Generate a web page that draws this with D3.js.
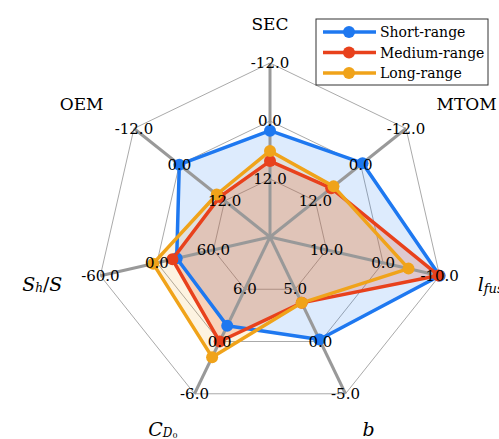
<!DOCTYPE html>
<html>
<head>
<meta charset="utf-8">
<script src="https://cdn.jsdelivr.net/npm/d3@7"></script>
<style>
  body { margin: 0; background: #fff; }
</style>
</head>
<body>
<script>
// Axis names and per-axis range (inner ring = +max, middle = 0, outer = -max)
const axes = ["SEC", "MTOM", "lfus", "b", "CD0", "ShS", "OEM"];
const axisMax = [12, 12, 10, 5, 6, 60, 12];

// Series values (axis units)
const seriesNames = ["Short-range", "Medium-range", "Long-range"];
const shortRange = [2.0, -0.5, -10.0, 0.2, 1.8, 21.0, 0.0];
const mediumRange = [8.3, 7.8, -9.8, 3.7, 0.0, 16.5, 10.7];
const longRange = [6.2, 7.2, -4.5, 3.7, -1.8, -4.0, 9.9];
const colors = ["#1e78f0", "#e8411c", "#f0a31a"];
const fillOpacity = [0.15, 0.2, 0.13];

const W = 499, H = 439;
const cx = 270, cy = 237, R = 174;
const serif = "'DejaVu Serif', 'Liberation Serif', serif";

let svg = d3.select("body").append("svg")
            .attr("width", W)
            .attr("height", H);

let n = axes.length;
let angle = i => Math.PI / 2 - i * 2 * Math.PI / n;
let px = (i, r) => cx + r * Math.cos(angle(i));
let py = (i, r) => cy - r * Math.sin(angle(i));

// one radial scale per axis
let scales = axisMax.map(m => d3.scaleLinear().domain([m, -m]).range([R / 3, R]));
let ringFracs = [1 / 3, 2 / 3, 1];

// grid polygons
let grid = svg.append("g");
ringFracs.forEach(f => {
    grid.append("polygon")
        .attr("points", axes.map((d, i) => [px(i, R * f), py(i, R * f)].join(",")).join(" "))
        .attr("fill", "none")
        .attr("stroke", "#aaa")
        .attr("stroke-width", 1);
});

// series fills first
let data = [shortRange, mediumRange, longRange];
let pts = data.map(vals => vals.map((v, i) => [px(i, scales[i](v)), py(i, scales[i](v))]));

let fills = svg.append("g");
pts.forEach((p, k) => {
    fills.append("polygon")
        .attr("points", p.map(q => q.join(",")).join(" "))
        .attr("fill", colors[k])
        .attr("fill-opacity", fillOpacity[k])
        .attr("stroke", "none");
});

// spokes
svg.append("g").selectAll("line")
    .data(axes)
    .enter()
    .append("line")
    .attr("x1", cx).attr("y1", cy)
    .attr("x2", (d, i) => px(i, R))
    .attr("y2", (d, i) => py(i, R))
    .attr("stroke", "#999")
    .attr("stroke-width", 3);

// series outlines + markers
let lines = svg.append("g");
pts.forEach((p, k) => {
    lines.append("polygon")
        .attr("points", p.map(q => q.join(",")).join(" "))
        .attr("fill", "none")
        .attr("stroke", colors[k])
        .attr("stroke-width", 3.5)
        .attr("stroke-linejoin", "round");
    lines.append("g").selectAll("circle")
        .data(p)
        .enter()
        .append("circle")
        .attr("cx", d => d[0])
        .attr("cy", d => d[1])
        .attr("r", 6)
        .attr("fill", colors[k]);
});

// tick labels on each axis (plain hyphen as minus, like the original)
let fmt = v => d3.format(".1f")(v).replace("\u2212", "-");
let ticks = svg.append("g");
axes.forEach((a, i) => {
    [axisMax[i], 0, -axisMax[i]].forEach(t => {
        let r = scales[i](t);
        ticks.append("text")
            .attr("x", px(i, r))
            .attr("y", py(i, r))
            .attr("text-anchor", "middle")
            .attr("dominant-baseline", "central")
            .attr("font-family", serif)
            .attr("font-size", 15)
            .attr("fill", "#000")
            .text(fmt(t));
    });
});

// axis labels
let labelR = 213;
let labels = svg.append("g");
axes.forEach((a, i) => {
    let c = Math.cos(angle(i));
    let t = labels.append("text")
        .attr("x", px(i, labelR))
        .attr("y", py(i, labelR))
        .attr("text-anchor", Math.abs(c) < 0.1 ? "middle" : (c > 0 ? "start" : "end"))
        .attr("dominant-baseline", "central")
        .attr("font-family", serif)
        .attr("font-size", 17)
        .attr("fill", "#000");
    if (a === "lfus") {
        t.append("tspan").attr("font-style", "italic").attr("font-size", 19).text("l");
        t.append("tspan").attr("font-style", "italic").attr("font-size", 13).attr("dy", 4).text("fus");
    } else if (a === "b") {
        t.append("tspan").attr("font-style", "italic").attr("font-size", 19).text("b");
    } else if (a === "CD0") {
        t.append("tspan").attr("font-style", "italic").attr("font-size", 19).text("C");
        t.append("tspan").attr("font-style", "italic").attr("font-size", 12).attr("dy", 4).text("D");
        t.append("tspan").attr("font-size", 8).attr("dy", 2).text("0");
    } else if (a === "ShS") {
        t.append("tspan").attr("font-style", "italic").attr("font-size", 19).text("S");
        t.append("tspan").attr("font-style", "italic").attr("font-size", 12).attr("dy", 4).text("h");
        t.append("tspan").attr("font-size", 19).attr("dy", -4).text("/");
        t.append("tspan").attr("font-style", "italic").attr("font-size", 19).text("S");
    } else {
        t.text(a);
    }
});

// legend
let legend = svg.append("g").attr("transform", "translate(316,19)");
legend.append("rect")
    .attr("width", 172).attr("height", 66)
    .attr("fill", "#fff")
    .attr("stroke", "#333")
    .attr("stroke-width", 1);
seriesNames.forEach((s, k) => {
    let y = 13 + k * 20.5;
    legend.append("line")
        .attr("x1", 7).attr("x2", 60)
        .attr("y1", y).attr("y2", y)
        .attr("stroke", colors[k])
        .attr("stroke-width", 3.5);
    legend.append("circle")
        .attr("cx", 33).attr("cy", y).attr("r", 6)
        .attr("fill", colors[k]);
    legend.append("text")
        .attr("x", 64).attr("y", y)
        .attr("dominant-baseline", "central")
        .attr("font-family", serif)
        .attr("font-size", 14)
        .text(s);
});
</script>
</body>
</html>
